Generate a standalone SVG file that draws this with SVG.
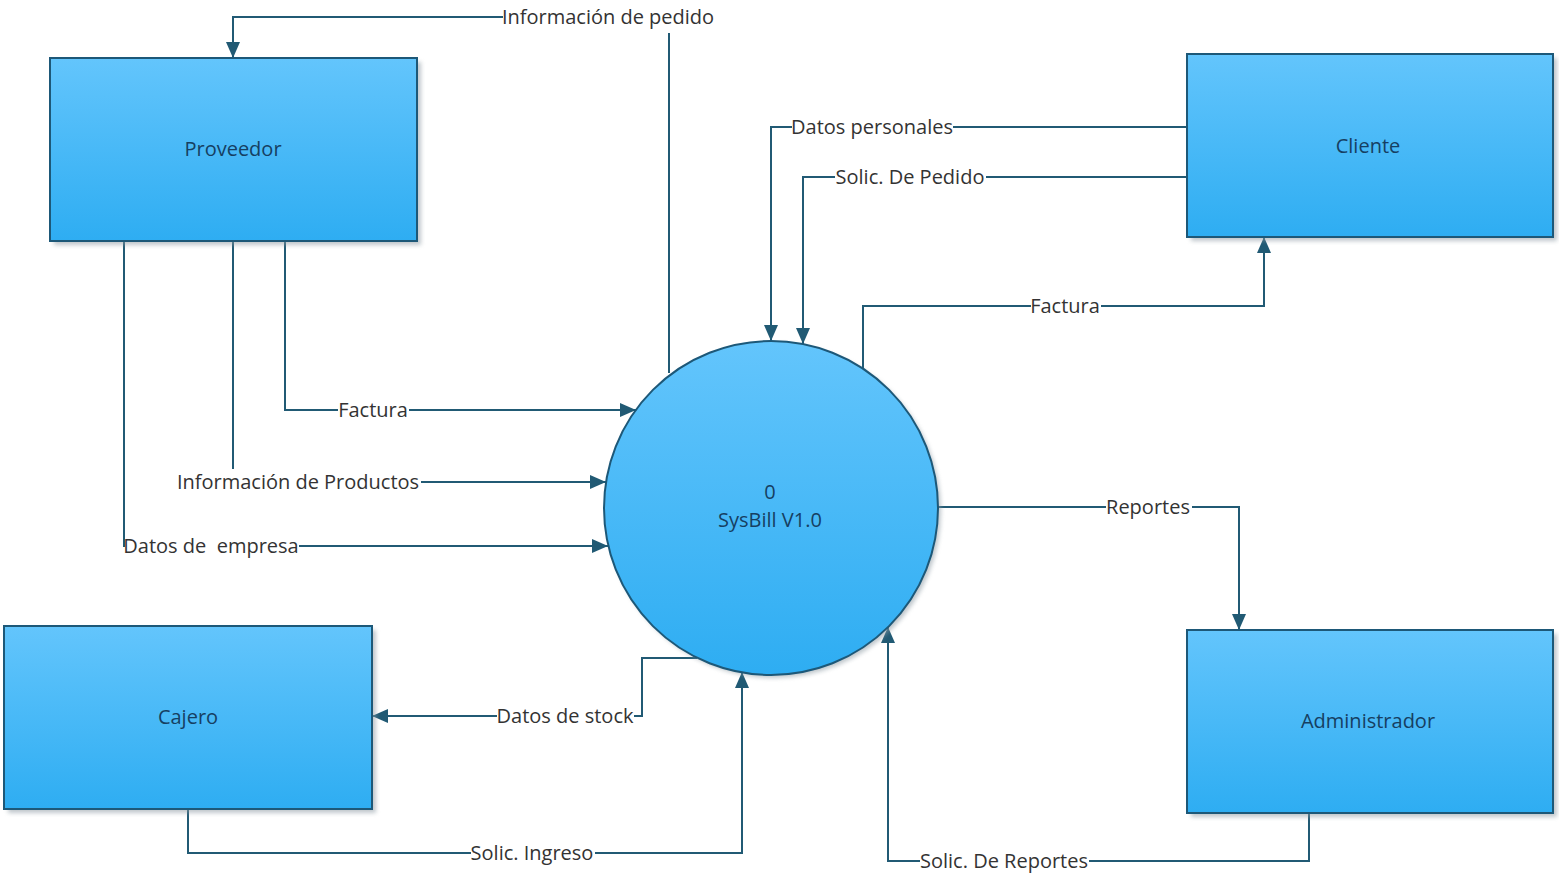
<svg xmlns="http://www.w3.org/2000/svg" width="1559" height="874" viewBox="0 0 1559 874">
  <style>
    .box { fill: url(#fillGrad); stroke: #1d5878; stroke-width: 2; }
    .shadow { fill: #8c9aa3; opacity: 0.55; }
    .flow { fill: none; stroke: #215a74; stroke-width: 2; }
    .lblbg { fill: #ffffff; }
    .lbl { font-family: "Open Sans", "Noto Sans", sans-serif; font-size: 20px; fill: #333333; text-anchor: middle; white-space: pre; }
    .name { font-family: "Open Sans", "Noto Sans", sans-serif; font-size: 20px; fill: #163f62; text-anchor: middle; }
  </style>
  <defs>
    <linearGradient id="fillGrad" x1="0" y1="0" x2="0" y2="1">
      <stop offset="0" stop-color="#63c5fc"/>
      <stop offset="1" stop-color="#2eadf2"/>
    </linearGradient>
    <filter id="soft" x="-10%" y="-10%" width="120%" height="120%">
      <feGaussianBlur stdDeviation="2"/>
    </filter>
    <marker id="arrow" viewBox="0 0 16 14" refX="16" refY="7" markerWidth="16" markerHeight="14" markerUnits="userSpaceOnUse" orient="auto">
      <path d="M0,0 L16,7 L0,14 Z" fill="#215a74"/>
    </marker>
  </defs>

  <rect width="1559" height="874" fill="#ffffff"/>

  <!-- data flows -->
  <g id="connectors">
    <path class="flow" d="M669,373 V17 H233 V58" marker-end="url(#arrow)"/>
    <path class="flow" d="M285,241 V410 H636" marker-end="url(#arrow)"/>
    <path class="flow" d="M233,241 V482 H606" marker-end="url(#arrow)"/>
    <path class="flow" d="M124,241 V546 H608" marker-end="url(#arrow)"/>
    <path class="flow" d="M1187,127 H771 V341" marker-end="url(#arrow)"/>
    <path class="flow" d="M1187,177 H803 V344" marker-end="url(#arrow)"/>
    <path class="flow" d="M863,369 V306 H1264 V237" marker-end="url(#arrow)"/>
    <path class="flow" d="M938,507 H1239 V630" marker-end="url(#arrow)"/>
    <path class="flow" d="M1309,813 V861 H888 V627" marker-end="url(#arrow)"/>
    <path class="flow" d="M188,809 V853 H742 V672" marker-end="url(#arrow)"/>
    <path class="flow" d="M697,658 H642 V716 H372" marker-end="url(#arrow)"/>

    <!-- label backgrounds and labels -->
    <rect class="lblbg" x="503" y="4" width="212" height="29"/>
    <text class="lbl" x="608" y="24">Información de pedido</text>

    <rect class="lblbg" x="338" y="398" width="71" height="24"/>
    <text class="lbl" x="373" y="417">Factura</text>

    <rect class="lblbg" x="176" y="469" width="245" height="26"/>
    <text class="lbl" x="298" y="489">Información de Productos</text>

    <rect class="lblbg" x="125" y="533" width="174" height="26"/>
    <text class="lbl" x="211" y="553">Datos de  empresa</text>

    <rect class="lblbg" x="792" y="114" width="161" height="26"/>
    <text class="lbl" x="872" y="134">Datos personales</text>

    <rect class="lblbg" x="835" y="164" width="151" height="26"/>
    <text class="lbl" x="910" y="184">Solic. De Pedido</text>

    <rect class="lblbg" x="1031" y="293" width="70" height="26"/>
    <text class="lbl" x="1065" y="313">Factura</text>

    <rect class="lblbg" x="1106" y="494" width="86" height="26"/>
    <text class="lbl" x="1148" y="514">Reportes</text>

    <rect class="lblbg" x="920" y="848" width="169" height="26"/>
    <text class="lbl" x="1004" y="868">Solic. De Reportes</text>

    <rect class="lblbg" x="471" y="840" width="124" height="26"/>
    <text class="lbl" x="532" y="860">Solic. Ingreso</text>

    <rect class="lblbg" x="497" y="703" width="137" height="26"/>
    <text class="lbl" x="565" y="723">Datos de stock</text>
  </g>

  <!-- external entities -->
  <g id="proveedor">
    <rect class="shadow" x="54" y="62" width="367" height="183" filter="url(#soft)"/>
    <rect class="box" x="50" y="58" width="367" height="183"/>
    <text class="name" x="233" y="156">Proveedor</text>
  </g>

  <g id="cliente">
    <rect class="shadow" x="1191" y="58" width="366" height="183" filter="url(#soft)"/>
    <rect class="box" x="1187" y="54" width="366" height="183"/>
    <text class="name" x="1368" y="153">Cliente</text>
  </g>

  <g id="cajero">
    <rect class="shadow" x="8" y="630" width="368" height="183" filter="url(#soft)"/>
    <rect class="box" x="4" y="626" width="368" height="183"/>
    <text class="name" x="188" y="724">Cajero</text>
  </g>

  <g id="administrador">
    <rect class="shadow" x="1191" y="634" width="366" height="183" filter="url(#soft)"/>
    <rect class="box" x="1187" y="630" width="366" height="183"/>
    <text class="name" x="1368" y="728">Administrador</text>
  </g>

  <!-- process -->
  <g id="sysbill">
    <circle class="shadow" cx="774" cy="511" r="167" filter="url(#soft)"/>
    <circle class="box" cx="771" cy="508" r="167"/>
    <text class="name" x="770" y="499">0</text>
    <text class="name" x="770" y="527">SysBill V1.0</text>
  </g>
</svg>
